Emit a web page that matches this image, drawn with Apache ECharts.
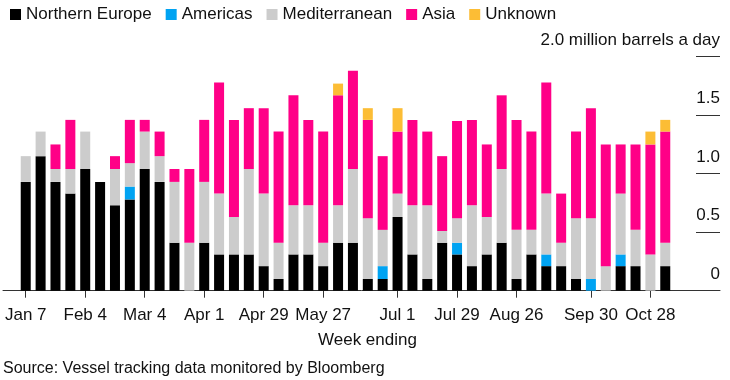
<!DOCTYPE html>
<html>
<head>
<meta charset="utf-8">
<script src="https://cdn.jsdelivr.net/npm/echarts@6/dist/echarts.min.js"></script>
<style>
html,body{margin:0;padding:0;background:#fff;}
#chart{width:730px;height:380px;}
</style>
</head>
<body>
<div id="chart"></div>
<script>
const categories = ['Jan 7','Jan 14','Jan 21','Jan 28','Feb 4','Feb 11','Feb 18','Feb 25','Mar 4','Mar 11','Mar 18','Mar 25','Apr 1','Apr 8','Apr 15','Apr 22','Apr 29','May 6','May 13','May 20','May 27','Jun 3','Jun 10','Jun 17','Jun 24','Jul 1','Jul 8','Jul 15','Jul 22','Jul 29','Aug 5','Aug 12','Aug 19','Aug 26','Sep 2','Sep 9','Sep 16','Sep 23','Sep 30','Oct 7','Oct 14','Oct 21','Oct 28','Nov 4'];
const shownLabels = ['Jan 7','Feb 4','Mar 4','Apr 1','Apr 29','May 27','Jul 1','Jul 29','Aug 26','Sep 30','Oct 28'];
const northernEurope = [0.93,1.15,0.93,0.83,1.04,0.93,0.73,0.78,1.04,0.93,0.41,0,0.41,0.31,0.31,0.31,0.21,0.1,0.31,0.31,0.21,0.41,0.41,0.1,0.1,0.63,0.31,0.1,0.41,0.31,0.21,0.31,0.41,0.1,0.31,0.21,0.21,0.1,0,0,0.21,0.21,0,0.21];
const americas = [0,0,0,0,0,0,0,0.11,0,0,0,0,0,0,0,0,0,0,0,0,0,0,0,0,0.11,0,0,0,0,0.1,0,0,0,0,0,0.1,0,0,0.1,0,0.1,0,0,0];
const mediterranean = [0.22,0.21,0.11,0.21,0.32,0,0.31,0.2,0.32,0.22,0.52,0.41,0.52,0.52,0.32,0.73,0.62,0.31,0.42,0.42,0.2,0.32,0.63,0.52,0.31,0.2,0.42,0.63,0.1,0.21,0.52,0.32,0.63,0.42,0.21,0.52,0.2,0.52,0.52,0.21,0.52,0.31,0.31,0.2];
const asia = [0,0,0.21,0.42,0,0,0.11,0.37,0.1,0.21,0.11,0.63,0.53,0.95,0.83,0.52,0.73,0.95,0.94,0.73,0.95,0.94,0.84,0.84,0.63,0.53,0.73,0.63,0.64,0.83,0.73,0.62,0.63,0.94,0.84,0.95,0.42,0.74,0.94,1.04,0.42,0.73,0.94,0.95];
const unknown = [0,0,0,0,0,0,0,0,0,0,0,0,0,0,0,0,0,0,0,0,0,0.1,0,0.1,0,0.2,0,0,0,0,0,0,0,0,0,0,0,0,0,0,0,0,0.11,0.1];
const yTicks = [0, 0.5, 1.0, 1.5, 2.0];

const FONT = '"Liberation Sans", Arial, sans-serif';
const TXT = '#111';
const chart = echarts.init(document.getElementById('chart'), null, {renderer:'canvas'});

const seriesDefs = [
  ['Northern Europe', northernEurope, '#000000'],
  ['Americas', americas, '#00a3f2'],
  ['Mediterranean', mediterranean, '#cccccc'],
  ['Asia', asia, '#ff0087'],
  ['Unknown', unknown, '#fcbd35']
];

const showIdx = (i) => shownLabels.indexOf(categories[i]) >= 0;

chart.setOption({
  animation: false,
  textStyle: {fontFamily: FONT},
  legend: {
    left: 5, top: 1, itemWidth: 11, itemHeight: 11, itemGap: 14,
    icon: 'rect',
    textStyle: {fontSize: 17, color: TXT, fontFamily: FONT},
    data: seriesDefs.map(d => d[0])
  },
  grid: [
    {left: 18.3, right: 57.3, top: 56.7, bottom: 89.3},
    {left: 3, right: 10, top: 56.7, bottom: 89.3},
    {left: 696, right: 10, top: 56.7, bottom: 89.3}
  ],
  xAxis: [
    {
      type: 'category', gridIndex: 0, data: categories,
      axisLine: {show: false},
      axisTick: {show: true, alignWithLabel: true, length: 7, interval: (i) => showIdx(i), lineStyle: {color: '#333', width: 1}},
      axisLabel: {interval: (i) => showIdx(i), fontSize: 17, color: TXT, margin: 16, fontFamily: FONT}
    },
    {
      type: 'value', gridIndex: 1, min: 0, max: 1,
      axisLine: {show: true, lineStyle: {color: '#333', width: 1}},
      axisTick: {show: false}, axisLabel: {show: false}, splitLine: {show: false}
    },
    {
      type: 'value', gridIndex: 2, min: 0, max: 1, show: false
    }
  ],
  yAxis: [
    {type: 'value', gridIndex: 0, min: 0, max: 2, show: false},
    {type: 'value', gridIndex: 1, min: 0, max: 2, show: false},
    {
      type: 'value', gridIndex: 2, min: 0, max: 2, interval: 0.5, position: 'right',
      axisLine: {show: false}, axisTick: {show: false},
      splitLine: {show: true, lineStyle: {color: '#333', width: 1}},
      axisLabel: {
        inside: true, margin: 0, fontSize: 17, color: TXT, fontFamily: FONT,
        verticalAlign: 'bottom', lineHeight: 17, padding: [0, 0, 8, 0], align: 'right',
        formatter: (v) => {
          const t = yTicks.find(x => Math.abs(x - v) < 1e-6);
          if (t === undefined) return '';
          if (t === 0) return '0';
          if (t === 2) return '2.0 million barrels a day';
          return t.toFixed(1);
        }
      }
    }
  ],
  graphic: [
    {type: 'text', left: 318, top: 332, style: {text: 'Week ending', fontSize: 17, fill: TXT, font: '17px ' + FONT}},
    {type: 'text', left: 3, top: 361, style: {text: 'Source: Vessel tracking data monitored by Bloomberg', fontSize: 16, fill: TXT, font: '16px ' + FONT}}
  ],
  series: seriesDefs.map(d => ({
    name: d[0], type: 'bar', stack: 'total', xAxisIndex: 0, yAxisIndex: 0,
    data: d[1], barWidth: 10, itemStyle: {color: d[2]},
    emphasis: {disabled: true}
  }))
});
</script>
</body>
</html>
